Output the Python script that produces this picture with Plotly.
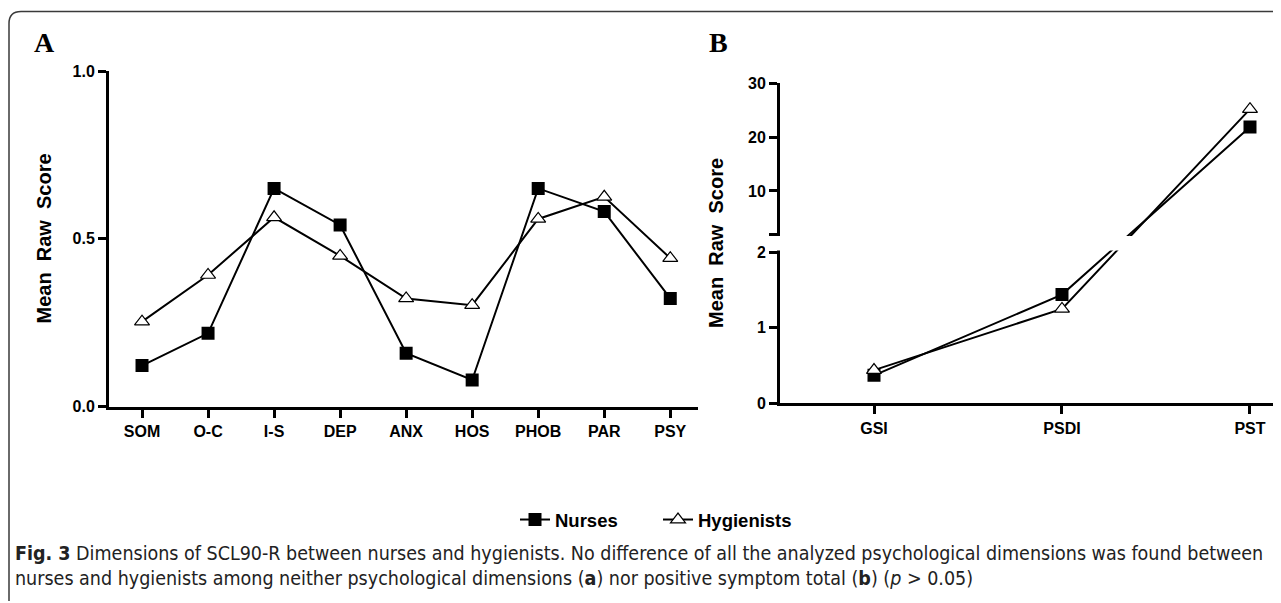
import plotly.graph_objects as go

# ---------------- data ----------------
a_categories = ["SOM", "O-C", "I-S", "DEP", "ANX", "HOS", "PHOB", "PAR", "PSY"]
a_nurses = [0.122, 0.218, 0.650, 0.541, 0.159, 0.079, 0.650, 0.581, 0.322]
a_hygienists = [0.253, 0.392, 0.564, 0.449, 0.322, 0.302, 0.559, 0.625, 0.442]

b_categories = ["GSI", "PSDI", "PST"]
b_nurses = [0.37, 1.44, 21.9]
b_hygienists = [0.44, 1.25, 25.2]

a_yticks = [0.0, 0.5, 1.0]
a_yticklabels = ["0.0", "0.5", "1.0"]
b_lower_ticks = [0, 1, 2]
b_upper_ticks = [10, 20, 30]

# broken axis for panel B: lower segment 0..2, upper segment 2..30
BREAK = 2.0
GAP = 0.2424          # gap between segments (in lower-segment units)
UPPER_K = 0.07129     # upper segment compression factor


def broken(v):
    if v <= BREAK:
        return v
    return BREAK + GAP + (v - BREAK) * UPPER_K


B_TOP = broken(30)

W, H = 1281, 603
OFF = 8  # page body margin


def px(x):
    return (x - OFF) / W


def py(y):
    return 1 - (y - OFF) / H


FONT = "Liberation Sans, Arial, sans-serif"
BLACK = "#000000"

fig = go.Figure()

# panel A
fig.add_trace(go.Scatter(
    x=a_categories, y=a_nurses, name="Nurses", mode="lines+markers",
    line=dict(color=BLACK, width=2),
    marker=dict(symbol="square", size=13, color=BLACK),
    xaxis="x", yaxis="y", legendgroup="n"))
fig.add_trace(go.Scatter(
    x=a_categories, y=a_hygienists, name="Hygienists", mode="lines+markers",
    line=dict(color=BLACK, width=2),
    marker=dict(symbol="triangle-up", size=13, color="white",
                line=dict(color=BLACK, width=1.2)),
    xaxis="x", yaxis="y", legendgroup="h"))

# panel B
fig.add_trace(go.Scatter(
    x=b_categories, y=[broken(v) for v in b_nurses], name="Nurses",
    mode="lines+markers", customdata=b_nurses,
    hovertemplate="%{x}: %{customdata}<extra>Nurses</extra>",
    line=dict(color=BLACK, width=2),
    marker=dict(symbol="square", size=13, color=BLACK),
    xaxis="x2", yaxis="y2", legendgroup="n", showlegend=False))
fig.add_trace(go.Scatter(
    x=b_categories, y=[broken(v) for v in b_hygienists], name="Hygienists",
    mode="lines+markers", customdata=b_hygienists,
    hovertemplate="%{x}: %{customdata}<extra>Hygienists</extra>",
    line=dict(color=BLACK, width=2),
    marker=dict(symbol="triangle-up", size=13, color="white",
                line=dict(color=BLACK, width=1.2)),
    xaxis="x2", yaxis="y2", legendgroup="h", showlegend=False))

tickfont = dict(family=FONT, size=16, color=BLACK, weight="bold")
axis_common = dict(showline=True, linecolor=BLACK, linewidth=3,
                   ticks="outside", ticklen=8, tickwidth=2.5, tickcolor=BLACK,
                   showgrid=False, zeroline=False, tickfont=tickfont,
                   automargin=False, fixedrange=True)

b_tickvals = [broken(v) for v in b_lower_ticks] + [BREAK + GAP] + [broken(v) for v in b_upper_ticks]
b_ticktext = [str(v) for v in b_lower_ticks] + [""] + [str(v) for v in b_upper_ticks]

fig.update_layout(
    width=W, height=H,
    margin=dict(l=0, r=0, t=0, b=0),
    paper_bgcolor="white", plot_bgcolor="white",
    template="none",
    showlegend=True,
    legend=dict(orientation="h", x=px(515), y=py(520), xanchor="left", yanchor="middle",
                entrywidth=98, entrywidthmode="pixels",
                font=dict(family=FONT, size=18.5, color=BLACK, weight="bold"),
                bgcolor="rgba(0,0,0,0)"),
    xaxis=dict(domain=[px(109), px(698)], range=[-0.5, 8.42], anchor="y",
               type="category", **axis_common),
    yaxis=dict(domain=[py(406.5), py(71)], range=[0, 1], anchor="x",
               tickvals=a_yticks, ticktext=a_yticklabels, **axis_common),
    xaxis2=dict(domain=[px(780), px(1273.3)], range=[-0.5, 2.124], anchor="y2",
                type="category", **axis_common),
    yaxis2=dict(domain=[py(403.3), py(83.3)], range=[0, B_TOP], anchor="x2",
                tickvals=b_tickvals, ticktext=b_ticktext, **axis_common),
)

# white gap hiding the axis break in panel B
eps = 0.025
fig.add_shape(type="rect", xref="x2 domain", yref="y2 domain",
              x0=-0.03, x1=1.0, y0=(BREAK + eps) / B_TOP, y1=(BREAK + GAP - eps) / B_TOP,
              fillcolor="white", line=dict(width=0), layer="above")

# rounded outer frame
L, T, R, Bm, rr = 9, 11.5, 1300, 601, 12
path = (f"M {px(L)},{py(Bm)} L {px(L)},{py(T + rr)} "
        f"Q {px(L)},{py(T)} {px(L + rr)},{py(T)} L {px(R)},{py(T)}")
fig.add_shape(type="path", xref="paper", yref="paper", path=path,
              line=dict(color="#3a3a3a", width=1.5), layer="above")

# panel letters
fig.add_annotation(text="<b>A</b>", x=px(32), y=py(43), xref="paper", yref="paper",
                   xanchor="left", yanchor="middle", showarrow=False,
                   font=dict(family="Liberation Serif, Times New Roman, serif", size=28, color=BLACK))
fig.add_annotation(text="<b>B</b>", x=px(707), y=py(43), xref="paper", yref="paper",
                   xanchor="left", yanchor="middle", showarrow=False,
                   font=dict(family="Liberation Serif, Times New Roman, serif", size=28, color=BLACK))

# y-axis titles
title_font = dict(family=FONT, size=20, color=BLACK, weight="bold")
fig.add_annotation(text="Mean&nbsp; Raw&nbsp; Score", x=px(43), y=py(238.5), xref="paper", yref="paper",
                   textangle=-90, showarrow=False, xanchor="center", yanchor="middle", font=title_font)
fig.add_annotation(text="Mean&nbsp; Raw&nbsp; Score", x=px(716), y=py(243), xref="paper", yref="paper",
                   textangle=-90, showarrow=False, xanchor="center", yanchor="middle", font=title_font)

# caption
caption = ("<b>Fig. 3</b> Dimensions of SCL90-R between nurses and hygienists. No difference of all the "
           "analyzed psychological dimensions was found between<br>nurses and hygienists among neither "
           "psychological dimensions (<b>a</b>) nor positive symptom total (<b>b</b>) (<i>p</i> &gt; 0.05)")
fig.add_annotation(text=caption, x=px(13), y=py(566), xref="paper", yref="paper",
                   xanchor="left", yanchor="middle", align="left", showarrow=False,
                   font=dict(family="Liberation Sans Narrow, DejaVu Sans Condensed, Liberation Sans, sans-serif",
                             size=19.5, color="#222222"))

fig.write_html("out.html")
